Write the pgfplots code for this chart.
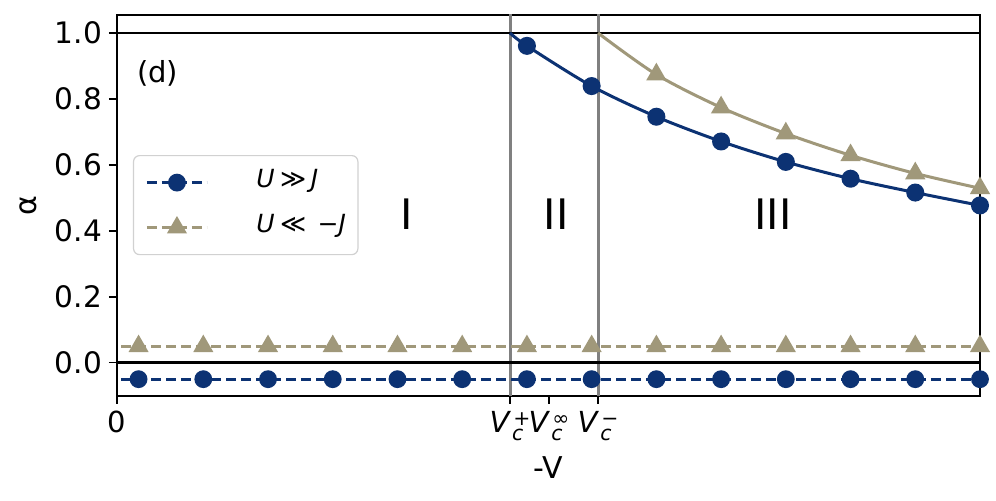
\documentclass[border=0pt]{standalone}
\usepackage{fontspec}
\setmainfont{DejaVu Sans}
\usepackage{pgfplots}
\pgfplotsset{compat=1.18}
\definecolor{cblue}{RGB}{12,50,115}
\definecolor{ctan}{RGB}{160,152,122}
\definecolor{cgray}{RGB}{128,128,128}
\newcommand{\Vc}[1]{\textit{V}\kern0.6pt\makebox[0pt][l]{\raisebox{-4.2pt}{\fontsize{10.2}{11}\selectfont\textit{c}}}\kern0.6pt\raisebox{3.2pt}{\fontsize{10.2}{11}\selectfont #1}}
\begin{document}
\begin{tikzpicture}
\useasboundingbox (-58.5pt,-52.5pt) rectangle (439.5pt,198pt);
\begin{axis}[
  scale only axis, width=431.5pt, height=190.5pt,
  xmin=0, xmax=10, ymin=-0.101, ymax=1.0546,
  axis line style={line width=0.8pt},
  tick style={line width=0.8pt, black},
  tick align=outside, major tick length=4pt, tick pos=left,
  xtick={0,4.554,5.006,5.574},
  xticklabels={0,\Vc{+},\Vc{∞},\Vc{−}},
  ytick={0,0.2,0.4,0.6,0.8,1.0},
  yticklabels={0.0,0.2,0.4,0.6,0.8,1.0},
  tick label style={font=\fontsize{14.8}{17}\selectfont},
  xticklabel style={font=\fontsize{14.5}{17}\selectfont},
  xlabel={-V}, ylabel={α},
  label style={font=\fontsize{15}{17}\selectfont},
  xlabel style={at={(axis description cs:0.5,-0.189)},anchor=center},
  ylabel style={at={(axis description cs:-0.1031,0.5)},anchor=center},
  legend style={at={(0.0185,0.6325)}, anchor=north west, draw=black!18, line width=0.6pt,
    rounded corners=3pt, font=\fontsize{12.5}{14}\selectfont,
    nodes={inner sep=0pt, text height=8.5pt, text depth=3.5pt},
    inner xsep=6pt, inner ysep=7.5pt, row sep=10.5pt, column sep=12pt, cells={anchor=west}},
  legend image code/.code={\draw[mark indices={2}] plot coordinates {(0pt,0pt) (15pt,0pt) (30pt,0pt)};},
]
% reference lines
\addplot[forget plot, cgray, line width=1.5pt] coordinates {(4.554,-0.2) (4.554,1.2)};
\addplot[forget plot, cgray, line width=1.5pt] coordinates {(5.574,-0.2) (5.574,1.2)};
\addplot[forget plot, black, line width=1.4pt] coordinates {(0,1) (10,1)};
\addplot[forget plot, black, line width=1.4pt] coordinates {(0,0) (10,0)};
% dashed series
\addplot[cblue, line width=1.4pt, dash pattern=on 5pt off 2.5pt, mark=*, mark size=3.75pt,
  mark options={solid}, mark indices={2,...,15}] coordinates {
  (0.05,-0.05) (0.25,-0.05) (1.0,-0.05) (1.75,-0.05) (2.5,-0.05) (3.25,-0.05) (4.0,-0.05)
  (4.75,-0.05) (5.5,-0.05) (6.25,-0.05) (7.0,-0.05) (7.75,-0.05) (8.5,-0.05) (9.25,-0.05) (10,-0.05)};
\addlegendentry{\hspace{12pt}\textit{U}\hspace{0.22em}≫\hspace{0.18em}\textit{J}}
\addplot[ctan, line width=1.4pt, dash pattern=on 5pt off 2.5pt, mark=triangle*, mark size=4.4pt,
  mark options={solid}, mark indices={2,...,15}] coordinates {
  (0.05,0.05) (0.25,0.05) (1.0,0.05) (1.75,0.05) (2.5,0.05) (3.25,0.05) (4.0,0.05)
  (4.75,0.05) (5.5,0.05) (6.25,0.05) (7.0,0.05) (7.75,0.05) (8.5,0.05) (9.25,0.05) (10,0.05)};
\addlegendentry{\hspace{12pt}\textit{U}\hspace{0.22em}≪\hspace{0.45em}−\textit{J}}
% solid curves
\addplot[forget plot, cblue, line width=1.5pt, smooth, mark=*, mark size=3.75pt, mark indices={2,...,9}] coordinates {
  (4.554,1.0) (4.75,0.961) (5.5,0.839) (6.25,0.746) (7.0,0.671) (7.75,0.609) (8.5,0.558) (9.25,0.516) (10,0.477)};
\addplot[forget plot, ctan, line width=1.5pt, smooth, mark=triangle*, mark size=4.4pt, mark indices={2,...,7}] coordinates {
  (5.574,1.0) (6.25,0.874) (7.0,0.774) (7.75,0.695) (8.5,0.629) (9.25,0.574) (10,0.529)};
% labels
\node[anchor=west, font=\fontsize{14.5}{17}\selectfont] at (axis description cs:0.015,0.848) {(d)};
\node[font=\fontsize{21}{24}\selectfont] at (axis cs:3.36,0.45) {I};
\node[font=\fontsize{21}{24}\selectfont] at (axis cs:5.087,0.45) {II};
\node[font=\fontsize{21}{24}\selectfont] at (axis cs:7.60,0.45) {III};
\end{axis}
\end{tikzpicture}
\end{document}
